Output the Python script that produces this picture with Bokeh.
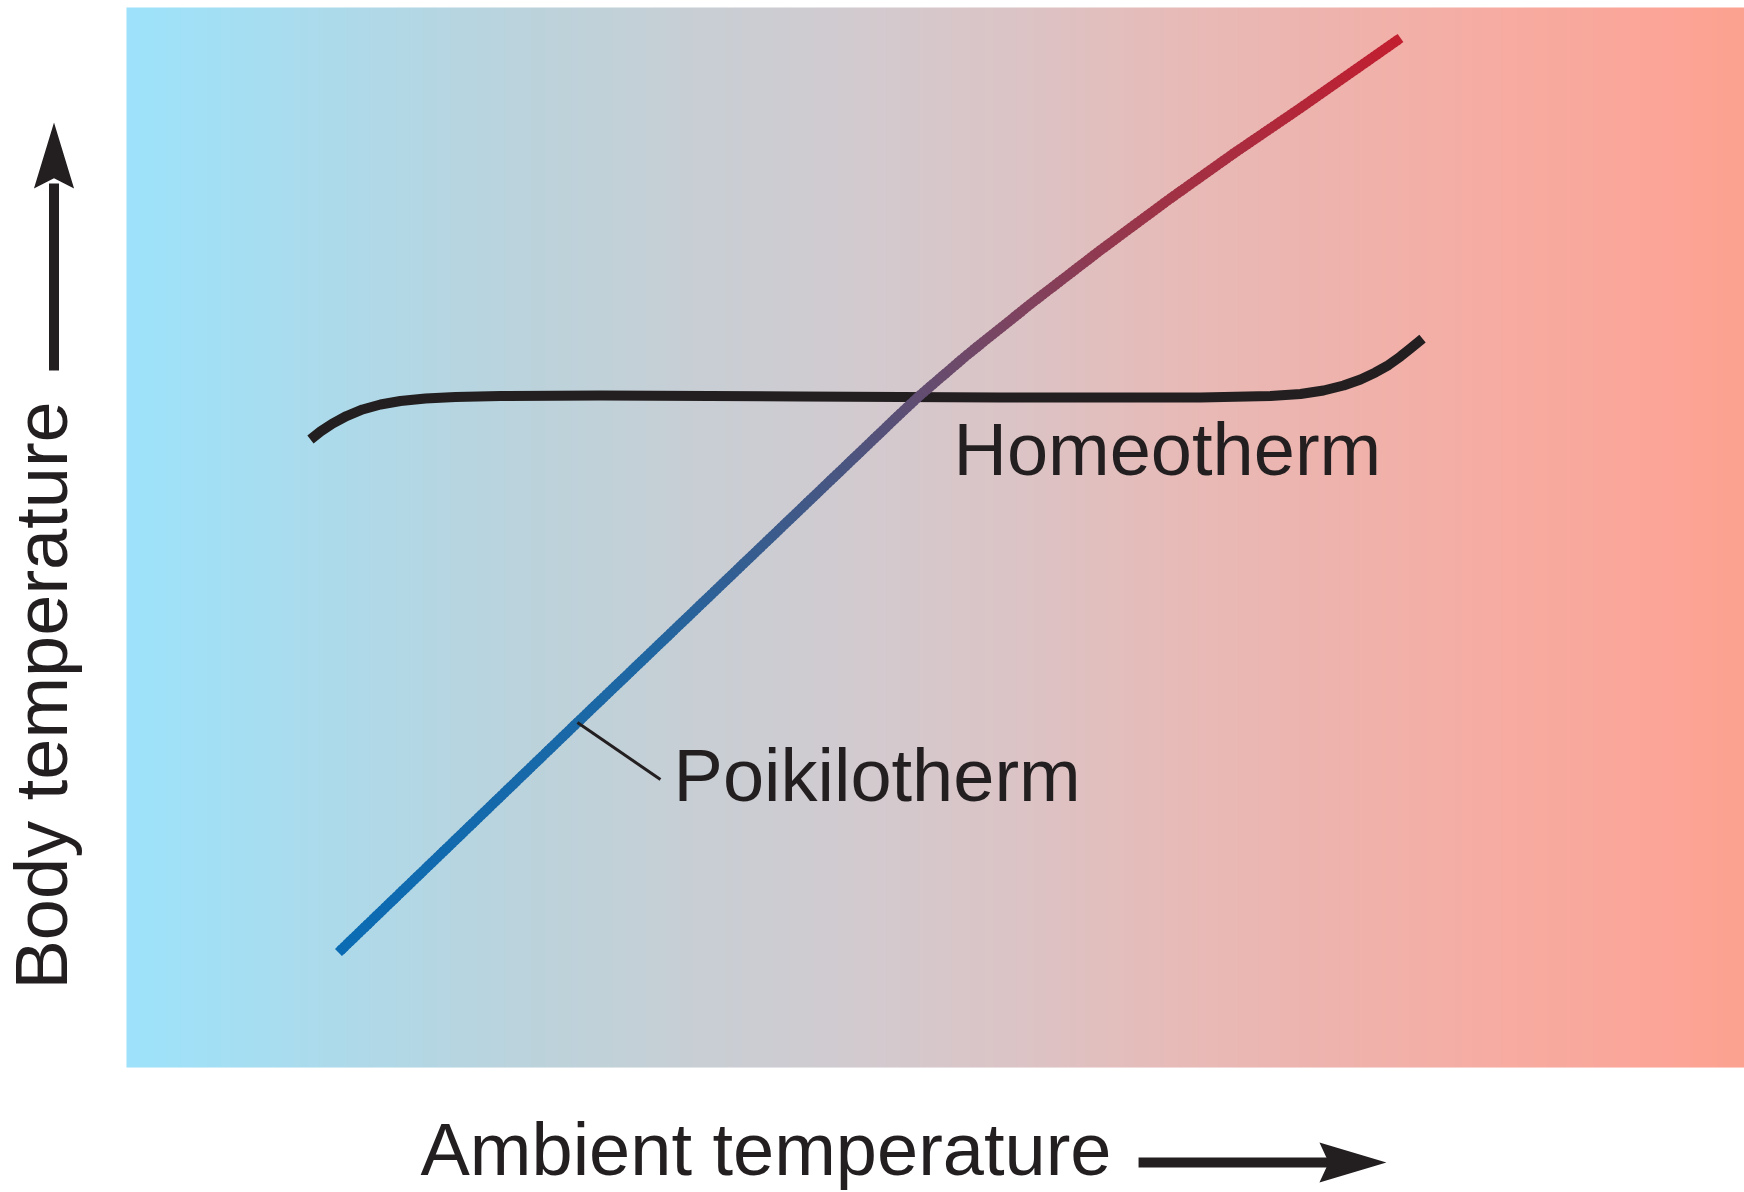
import numpy as np
from bokeh.plotting import figure
from bokeh.models import Range1d
from bokeh.core.properties import value
from bokeh.embed import file_html
from bokeh.resources import INLINE

# ---------------- data (axis units, plot area = 0..100 on both axes) ----------------
homeo_x = [11.37, 11.99, 12.73, 13.60, 14.59, 15.70, 16.93, 18.48, 20.33, 23.11, 29.30,
           41.66, 54.02, 66.38, 70.70, 72.56, 73.98, 75.22, 76.27, 77.19, 78.00,
           78.74, 79.42, 80.10]
homeo_y = [59.25, 60.00, 60.75, 61.46, 62.08, 62.55, 62.88, 63.11, 63.25, 63.35, 63.40,
           63.30, 63.21, 63.21, 63.35, 63.54, 63.87, 64.34, 64.91, 65.57, 66.27,
           67.08, 67.92, 68.77]
poik_x = [13.10, 27.87, 47.84, 49.07, 51.98, 56.06, 60.20, 64.34, 68.42, 72.56, 78.74]
poik_y = [10.85, 32.55, 61.70, 63.45, 67.26, 72.25, 77.11, 81.79, 86.22, 90.52, 97.12]

curve_labels = ["Homeotherm", "Poikilotherm"]
x_title = "Ambient temperature"
y_title = "Body temperature"

# ---------------- styles ----------------
FONT = value("Liberation Sans")
TXT = "#231f20"
FS = "74px"
bg_stops = [0.00, 0.05, 0.15, 0.25, 0.35, 0.45, 0.55, 0.65, 0.75, 0.85, 0.95, 1.00]
bg_cols = ["#9de3fb", "#a3e0f5", "#b0d9e8", "#bcd3dc", "#c8cfd5", "#d2cbd0",
           "#dcc4c6", "#e7bbb8", "#efb3ad", "#f7aca2", "#fca598", "#fca290"]
line_stops = [0.0, 0.3, 0.5, 0.65, 0.8, 1.0]
line_cols = ["#0b6cb4", "#1f67a3", "#4a5580", "#7a4562", "#a03245", "#c21f30"]


def hex2rgb(h):
    h = h.lstrip("#")
    return [int(h[i:i + 2], 16) for i in (0, 2, 4)]


def interp_colors(t, stops, cols):
    rgb = np.array([hex2rgb(c) for c in cols], dtype=float)
    return np.stack([np.interp(t, stops, rgb[:, k]) for k in range(3)], axis=-1)


W, H = 1744, 1192
p = figure(width=W, height=H, x_range=Range1d(-7.787, 100.0), y_range=Range1d(-11.79, 100.66),
           output_backend="svg", toolbar_location=None, min_border=0,
           x_axis_location=None, y_axis_location=None)
p.grid.visible = False
p.outline_line_color = None
p.background_fill_color = "white"
p.border_fill_color = "white"

# background gradient
N = 1618
t = np.linspace(0, 1, N)
rgb = interp_colors(t, bg_stops, bg_cols).astype(np.uint32)
img = np.empty((1, N), dtype=np.uint32)
img[0, :] = (255 << 24) | (rgb[:, 2] << 16) | (rgb[:, 1] << 8) | rgb[:, 0]
p.image_rgba(image=[img], x=0, y=0, dw=100, dh=100)

# Homeotherm curve
p.line(homeo_x, homeo_y, line_color=TXT, line_width=10, line_cap="butt", line_join="round")

# Poikilotherm curve with colour gradient along its length
px = np.array(poik_x)
py = np.array(poik_y)
sx = 16.18   # px per x unit
sy = 10.60   # px per y unit
seg_len = np.hypot(np.diff(px) * sx, np.diff(py) * sy)
cum = np.concatenate([[0], np.cumsum(seg_len)])
total = cum[-1]
EXT = 1.2  # px overlap between consecutive pieces to hide seams
xs0, ys0, xs1, ys1, cs = [], [], [], [], []
nseg = len(px) - 1
for i in range(nseg):
    n = max(1, int(seg_len[i] / 4))
    ux = (px[i + 1] - px[i]) * sx / seg_len[i]
    uy = (py[i + 1] - py[i]) * sy / seg_len[i]
    for j in range(n):
        a = j / n
        b = (j + 1) / n
        xa = px[i] + (px[i + 1] - px[i]) * a
        ya = py[i] + (py[i + 1] - py[i]) * a
        xb = px[i] + (px[i + 1] - px[i]) * b
        yb = py[i] + (py[i + 1] - py[i]) * b
        if not (i == 0 and j == 0):
            xa -= ux * EXT / sx
            ya -= uy * EXT / sy
        if not (i == nseg - 1 and j == n - 1):
            xb += ux * EXT / sx
            yb += uy * EXT / sy
        tm = (cum[i] + seg_len[i] * (a + b) / 2) / total
        c = interp_colors(np.array([tm]), line_stops, line_cols)[0]
        xs0.append(xa); ys0.append(ya); xs1.append(xb); ys1.append(yb)
        cs.append("#%02x%02x%02x" % tuple(int(round(v)) for v in c))
p.segment(x0=xs0, y0=ys0, x1=xs1, y1=ys1, line_color=cs, line_width=10, line_cap="butt")

# leader line to Poikilotherm label
p.segment(x0=[poik_x[1]], y0=[poik_y[1]], x1=[33.0], y1=[27.17], line_color=TXT, line_width=3)

# curve labels
p.text(x=[51.11, 33.81], y=[58.30, 27.55], text=curve_labels, text_font=FONT,
       text_font_size=FS, text_color=TXT, text_baseline="alphabetic", text_align="left")

# axis titles
p.text(x=[18.17], y=[-7.74], text=[x_title], text_font=FONT, text_font_size=FS,
       text_color=TXT, text_baseline="alphabetic", text_align="left")
p.text(x=[-5.25], y=[7.36], text=[y_title], text_font=FONT, text_font_size=FS,
       text_color=TXT, text_baseline="alphabetic", text_align="left", angle=np.pi / 2)

# axis arrows
p.segment(x0=[62.55], y0=[-8.96], x1=[74.4], y1=[-8.96], line_color=TXT, line_width=10, line_cap="butt")
p.patch(x=[77.87, 73.73, 74.30, 73.73], y=[-8.96, -7.07, -8.96, -10.85], fill_color=TXT, line_color=None)
p.segment(x0=[-4.48], y0=[65.75], x1=[-4.48], y1=[83.4], line_color=TXT, line_width=10, line_cap="butt")
p.patch(x=[-4.48, -5.72, -4.48, -3.24], y=[89.15, 82.92, 83.9, 82.92], fill_color=TXT, line_color=None)

open("out.html", "w").write(file_html(p, INLINE))
